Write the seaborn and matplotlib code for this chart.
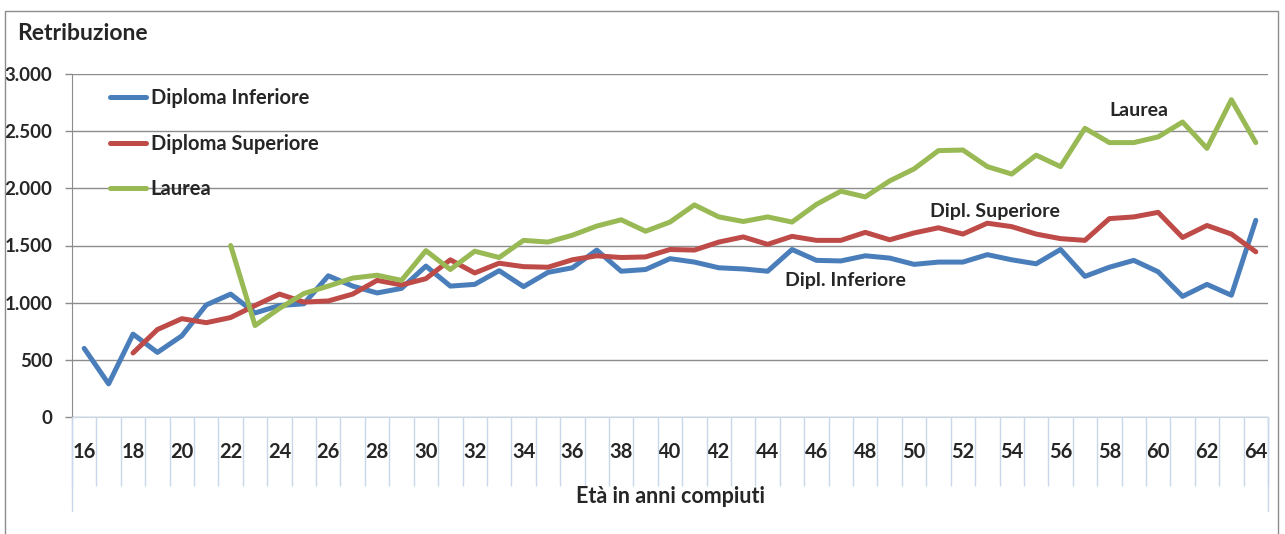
import numpy as np
import pandas as pd
import matplotlib
matplotlib.use("Agg")
import matplotlib.pyplot as plt
import seaborn as sns
from matplotlib.patches import Rectangle
from matplotlib.lines import Line2D

# età (anni compiuti) and retribuzione per livello di istruzione
ages = list(range(16, 65))

dipl_inferiore = [600, 290, 725, 565, 710, 980, 1075, 910, 975, 990,
                  1235, 1145, 1085, 1125, 1320, 1145, 1160, 1280, 1140, 1265,
                  1305, 1460, 1275, 1290, 1385, 1355, 1305, 1295, 1275, 1465,
                  1370, 1365, 1410, 1390, 1335, 1355, 1355, 1420, 1375, 1340,
                  1465, 1230, 1310, 1370, 1270, 1055, 1160, 1065, 1720]

# starts at 18
dipl_superiore = [560, 765, 860, 825, 870, 975, 1075, 1005,
                  1015, 1075, 1195, 1155, 1210, 1375, 1260, 1345, 1315, 1310,
                  1375, 1410, 1395, 1400, 1465, 1460, 1530, 1575, 1510, 1580,
                  1545, 1545, 1615, 1550, 1610, 1655, 1600, 1695, 1665, 1600,
                  1560, 1545, 1735, 1750, 1790, 1570, 1675, 1600, 1445]

# starts at 22
laurea = [1500, 800, 950, 1080,
          1145, 1215, 1240, 1195, 1455, 1290, 1450, 1395, 1545, 1530,
          1590, 1670, 1725, 1625, 1705, 1855, 1750, 1710, 1750, 1705,
          1860, 1975, 1925, 2065, 2170, 2330, 2335, 2190, 2125, 2290,
          2190, 2525, 2400, 2400, 2450, 2580, 2350, 2775, 2400]

series_names = ["Diploma Inferiore", "Diploma Superiore", "Laurea"]
colors = ["#4a7ebb", "#be4b48", "#98b954"]
y_ticks = [0, 500, 1000, 1500, 2000, 2500, 3000]
x_labels = list(range(16, 65, 2))

# long-form table for seaborn
frames = []
for name, vals in zip(series_names, [dipl_inferiore, dipl_superiore, laurea]):
    frames.append(pd.DataFrame({"age": ages[len(ages) - len(vals):],
                                "value": vals, "serie": name}))
df = pd.concat(frames, ignore_index=True)

sns.set_style("white")
plt.rcParams["font.family"] = ["Lato", "DejaVu Sans"]
plt.rcParams["font.weight"] = "bold"

fig = plt.figure(figsize=(12.85, 5.34), dpi=100)
ax = fig.add_axes([72 / 1285, 1 - 417 / 534, 1196 / 1285, 343 / 534])

sns.lineplot(data=df, x="age", y="value", hue="serie", hue_order=series_names,
             palette=colors, linewidth=3.6, errorbar=None, legend=False, ax=ax)

ax.set_xlim(15.5, 64.5)
ax.set_ylim(0, 3000)

# y axis
ax.set_yticks(y_ticks)
ax.set_yticklabels([f"{v:,}".replace(",", ".") for v in y_ticks],
                   fontsize=13.5, fontweight="bold")
ax.yaxis.grid(True, color="#8c8c8c", linewidth=1)
ax.tick_params(axis="y", which="major", left=True, length=5, width=1,
               color="#8c8c8c", pad=9)

# x axis: labels on even ages, boundary ticks between categories
ax.set_xticks(x_labels)
ax.set_xticklabels([str(a) for a in x_labels], fontsize=14.5, fontweight="bold")
ax.tick_params(axis="x", which="major", length=0, pad=18)
ax.set_xticks(np.arange(15.5, 65, 1), minor=True)
ax.tick_params(axis="x", which="minor", bottom=True, length=50, width=1,
               color="#c9d7ea")
for xb in [15.5, 64.5]:
    ax.axvline(xb, ymin=-0.275, ymax=0, color="#c9d7ea", lw=1, clip_on=False)

for side in ["top", "right"]:
    ax.spines[side].set_visible(False)
ax.spines["left"].set_color("#8c8c8c")
ax.spines["bottom"].set_color("#c9d7ea")

ax.set_ylabel("")
ax.set_xlabel("Età in anni compiuti", fontsize=15.5, fontweight="bold")
ax.xaxis.set_label_coords(0.5, -0.233)
ax.xaxis.label.set_va("center")

# legend
handles = [Line2D([0], [0], color=c, lw=3.6) for c in colors]
ax.legend(handles, series_names, loc="upper left", bbox_to_anchor=(0.017, 1.012),
          frameon=False, prop={"size": 14.5, "weight": "bold"},
          handlelength=1.75, handletextpad=0.25, labelspacing=1.27)

# direct labels
ax.text(59.2, 2680, "Laurea", ha="center", va="center", fontsize=14, fontweight="bold")
ax.text(53.3, 1795, "Dipl. Superiore", ha="center", va="center", fontsize=14, fontweight="bold")
ax.text(47.2, 1195, "Dipl. Inferiore", ha="center", va="center", fontsize=14, fontweight="bold")

fig.text(17 / 1285, 1 - 33 / 534, "Retribuzione", ha="left", va="center",
         fontsize=16.5, fontweight="bold")

# outer chart border
fig.patches.append(Rectangle((5 / 1285, -0.05), 1273 / 1285, 1 - 11 / 534 + 0.05,
                             transform=fig.transFigure, fill=False,
                             edgecolor="#8c8c8c", lw=1))

fig.savefig("out.png", dpi=100)
